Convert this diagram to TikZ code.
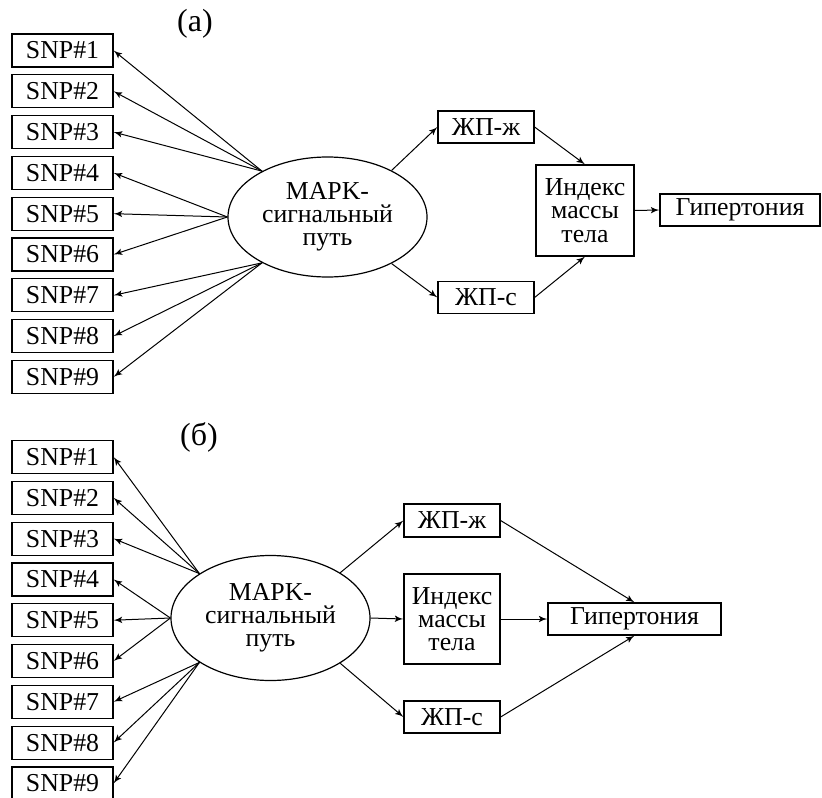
\documentclass[tikz,border=0pt]{standalone}
\usepackage{fontspec}
\setmainfont{Liberation Serif}
\usepackage{tikz}
\usetikzlibrary{shapes,arrows,positioning}
\tikzstyle{snp} = [rectangle, draw, line width=0.6pt, minimum width=50.5pt, minimum height=16.5pt, inner sep=0pt]
\tikzstyle{block} = [rectangle, draw, line width=0.6pt, align=center, inner sep=0pt]
\tikzstyle{pathway} = [ellipse, draw, line width=0.6pt, align=center, inner sep=0pt, minimum width=99.5pt]
\tikzstyle{panel} = [font=\fontsize{16}{18}\selectfont]
\tikzstyle{line} = [draw, -latex', line width=0.5pt]

\begin{document}
\begin{tikzpicture}[x=0.5pt, y=-0.5pt, node distance=3.3pt, font=\fontsize{12.9}{11.6}\selectfont]
\useasboundingbox (0,0) rectangle (822,797);

% (a)
\node [panel] (labela) at (195,24) {(a)};
\node [snp] (snpa1) at (62.5,50.5) {SNP\#1};
\node [snp, below=of snpa1] (snpa2) {SNP\#2};
\node [snp, below=of snpa2] (snpa3) {SNP\#3};
\node [snp, below=of snpa3] (snpa4) {SNP\#4};
\node [snp, below=of snpa4] (snpa5) {SNP\#5};
\node [snp, below=of snpa5] (snpa6) {SNP\#6};
\node [snp, below=of snpa6] (snpa7) {SNP\#7};
\node [snp, below=of snpa7] (snpa8) {SNP\#8};
\node [snp, below=of snpa8] (snpa9) {SNP\#9};
\node [pathway, minimum height=60pt] (mapka) at (327.5,217) {MAPK-\\сигнальный\\путь};
\node [block, minimum width=48pt, minimum height=16pt] (zhpza) at (486,127) {ЖП-ж};
\node [block, minimum width=48pt, minimum height=16pt] (zhpsa) at (486,297.5) {ЖП-с};
\node [block, minimum width=49pt, minimum height=45.5pt] (imta) at (585,210.5) {Индекс\\массы\\тела};
\node [block, minimum width=80pt, minimum height=16pt] (hypa) at (740,210) {Гипертония};

\path [line] (mapka.145) -- (snpa1.east);
\path [line] (mapka.145) -- (snpa2.east);
\path [line] (mapka.145) -- (snpa3.east);
\path [line] (mapka.west) -- (snpa4.east);
\path [line] (mapka.west) -- (snpa5.east);
\path [line] (mapka.west) -- (snpa6.east);
\path [line] (mapka.215) -- (snpa7.east);
\path [line] (mapka.215) -- (snpa8.east);
\path [line] (mapka.215) -- (snpa9.east);
\path [line] (mapka.36) -- (zhpza.west);
\path [line] (mapka.-36) -- (zhpsa.west);
\path [line] (zhpza.east) -- (imta.north);
\path [line] (zhpsa.east) -- (imta.south);
\path [line] (imta.east) -- (hypa.west);

% (b)
\node [panel] (labelb) at (199,437) {(б)};
\node [snp] (snpb1) at (62.5,457) {SNP\#1};
\node [snp, below=of snpb1] (snpb2) {SNP\#2};
\node [snp, below=of snpb2] (snpb3) {SNP\#3};
\node [snp, below=of snpb3] (snpb4) {SNP\#4};
\node [snp, below=of snpb4] (snpb5) {SNP\#5};
\node [snp, below=of snpb5] (snpb6) {SNP\#6};
\node [snp, below=of snpb6] (snpb7) {SNP\#7};
\node [snp, below=of snpb7] (snpb8) {SNP\#8};
\node [snp, below=of snpb8] (snpb9) {SNP\#9};
\node [pathway, minimum height=62.5pt] (mapkb) at (270.5,618) {MAPK-\\сигнальный\\путь};
\node [block, minimum width=48pt, minimum height=16.5pt] (zhpzb) at (452,520.5) {ЖП-ж};
\node [block, minimum width=48pt, minimum height=45pt] (imtb) at (452,619) {Индекс\\массы\\тела};
\node [block, minimum width=48pt, minimum height=16pt] (zhpsb) at (452,717) {ЖП-с};
\node [block, minimum width=86.5pt, minimum height=16pt] (hypb) at (634.5,619) {Гипертония};

\path [line] (mapkb.148) -- (snpb1.east);
\path [line] (mapkb.148) -- (snpb2.east);
\path [line] (mapkb.148) -- (snpb3.east);
\path [line] (mapkb.west) -- (snpb4.east);
\path [line] (mapkb.west) -- (snpb5.east);
\path [line] (mapkb.west) -- (snpb6.east);
\path [line] (mapkb.212) -- (snpb7.east);
\path [line] (mapkb.212) -- (snpb8.east);
\path [line] (mapkb.212) -- (snpb9.east);
\path [line] (mapkb.33) -- (zhpzb.west);
\path [line] (mapkb.east) -- (imtb.west);
\path [line] (mapkb.-33) -- (zhpsb.west);
\path [line] (zhpzb.east) -- (hypb.north);
\path [line] (imtb.east) -- (hypb.west);
\path [line] (zhpsb.east) -- (hypb.south);

\end{tikzpicture}
\end{document}
